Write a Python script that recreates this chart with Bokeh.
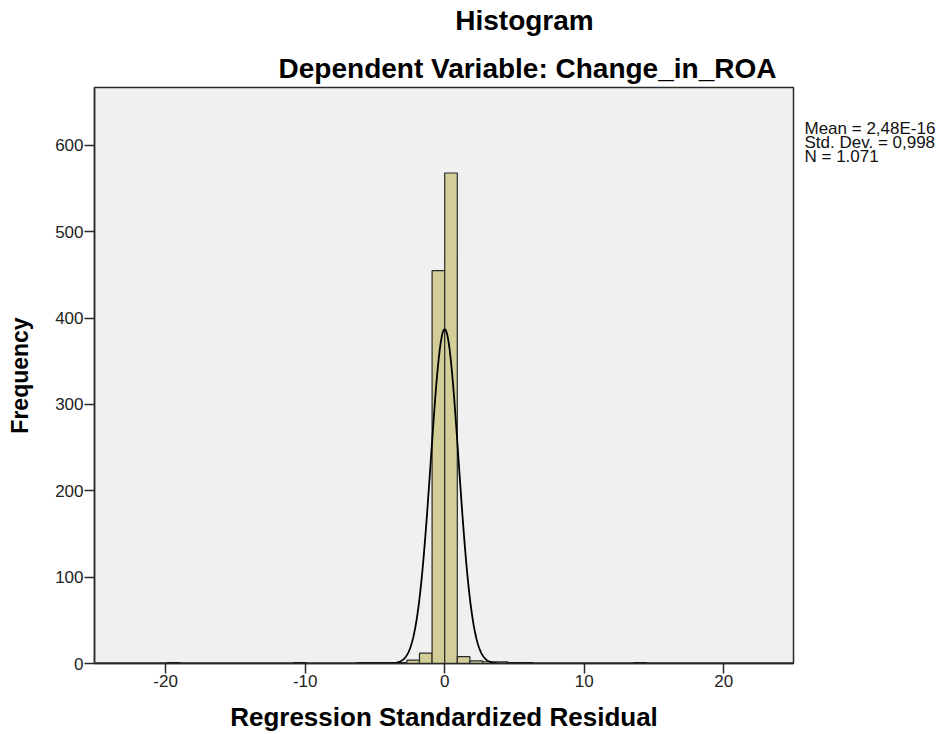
import numpy as np
from bokeh.plotting import figure
from bokeh.models import FixedTicker
from bokeh.layouts import column, row
from bokeh.core.properties import value
from bokeh.embed import file_html
from bokeh.resources import INLINE

# ---- data ----
bin_width = 0.904
bin_index = [-22, -12, -7, -6, -5, -4, -3, -2, -1, 0, 1, 2, 3, 4, 5, 6, 15]
counts = [1, 1, 1, 1, 1, 1, 4, 12, 455, 568, 8, 3, 2, 2, 1, 1, 1]
mean_val = 2.48e-16
std_val = 0.998
n_val = 1071
x_ticks = [-20, -10, 0, 10, 20]
x_tick_labels = ["-20", "-10", "0", "10", "20"]
y_ticks = [0, 100, 200, 300, 400, 500, 600]
title_main = "Histogram"
title_sub = "Dependent Variable: Change_in_ROA"
stats_lines = ["Mean = 2,48E-16", "Std. Dev. = 0,998", "N = 1.071"]
x_label = "Regression Standardized Residual"
y_label = "Frequency"

FONT = "Liberation Sans"
TOP_H = 85
MAIN_H = 649
BOTTOM = 70
TOPB = 2

# ---- title strip ----
pt = figure(width=950, height=TOP_H, x_range=(0, 950), y_range=(0, TOP_H),
            output_backend="svg", toolbar_location=None, title=None,
            x_axis_location=None, y_axis_location=None,
            min_border_left=0, min_border_right=0, min_border_top=0, min_border_bottom=0)
pt.outline_line_color = None
pt.xgrid.visible = False
pt.ygrid.visible = False
pt.text(x=[524, 527], y=[TOP_H - 20, TOP_H - 68], text=[title_main, title_sub],
        text_align="center", text_baseline="alphabetic",
        text_font=value(FONT), text_font_size=value("28px"),
        text_font_style="bold", text_color="black")

# ---- main histogram ----
p = figure(width=800, height=MAIN_H, x_range=(-25.1, 25.0), y_range=(0, 667),
           output_backend="svg", toolbar_location=None, title=None,
           min_border_left=94, min_border_right=7,
           min_border_top=TOPB, min_border_bottom=BOTTOM)
p.background_fill_color = "#f0f0f0"
p.border_fill_color = "white"
p.outline_line_color = "#2a2a2a"
p.outline_line_width = 1.5
p.xgrid.visible = False
p.ygrid.visible = False

lefts = [i * bin_width for i in bin_index]
rights = [(i + 1) * bin_width for i in bin_index]
p.quad(left=lefts, right=rights, top=counts, bottom=0,
       fill_color="#d3ce97", line_color="#2a2a2a", line_width=1.2)

# normal curve from the stated mean / sd / N and the bin width
xs = np.linspace(-25, 25, 2001)
ys = n_val * bin_width / (std_val * np.sqrt(2 * np.pi)) * np.exp(-0.5 * ((xs - mean_val) / std_val) ** 2)
p.line(xs, ys, line_color="black", line_width=1.8)

for ax in (p.xaxis[0], p.yaxis[0]):
    ax.major_tick_out = 10
    ax.major_tick_in = 0
    ax.minor_tick_out = 0
    ax.minor_tick_in = 0
    ax.axis_line_color = "#2a2a2a"
    ax.axis_line_width = 1.5
    ax.major_tick_line_color = "#2a2a2a"
    ax.major_tick_line_width = 1.5
    ax.major_label_text_font = FONT
    ax.major_label_text_font_size = "17px"
    ax.major_label_text_color = "#222222"
    ax.major_label_text_line_height = 1.0
    ax.axis_label_text_font = FONT
    ax.axis_label_text_font_style = "bold"
    ax.axis_label_text_color = "black"
    ax.axis_label_text_line_height = 0.9

p.xaxis.ticker = FixedTicker(ticks=x_ticks)
p.xaxis.major_label_overrides = {t: lab for t, lab in zip(x_ticks, x_tick_labels)}
p.yaxis.ticker = FixedTicker(ticks=y_ticks)
p.xaxis.major_label_standoff = 1
p.yaxis.major_label_standoff = 1
p.xaxis.axis_label = x_label
p.yaxis.axis_label = y_label
p.xaxis.axis_label_text_font_size = "26px"
p.yaxis.axis_label_text_font_size = "23px"
p.xaxis.axis_label_standoff = 12
p.yaxis.axis_label_standoff = 19

# ---- statistics box on the right ----
ps = figure(width=150, height=MAIN_H, x_range=(0, 150), y_range=p.y_range,
            output_backend="svg", toolbar_location=None, title=None,
            x_axis_location=None, y_axis_location=None,
            min_border_left=0, min_border_right=0,
            min_border_top=TOPB, min_border_bottom=BOTTOM)
ps.outline_line_color = None
ps.xgrid.visible = False
ps.ygrid.visible = False
px_per_unit = 577 / 667
ys_txt = [619.0 - k * 14.0 / px_per_unit for k in range(len(stats_lines))]
ps.text(x=[4] * len(stats_lines), y=ys_txt, text=stats_lines,
        text_align="left", text_baseline="alphabetic",
        text_font=value(FONT), text_font_size=value("17px"), text_color="#111111")

layout = column(pt, row(p, ps, spacing=0), spacing=0)
open("out.html", "w").write(file_html(layout, INLINE))
